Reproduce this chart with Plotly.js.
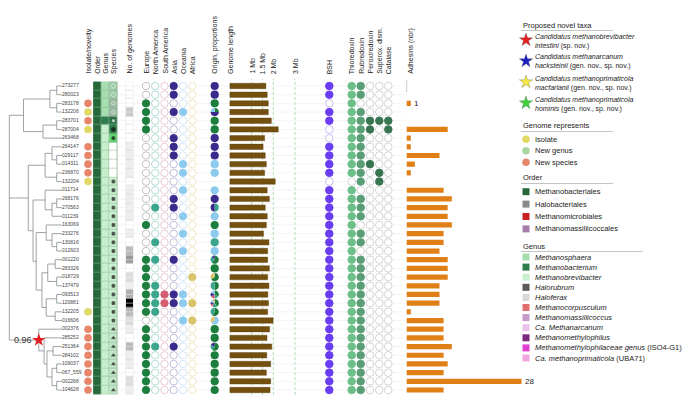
<!DOCTYPE html>
<html><head><meta charset="utf-8">
<script src="https://cdn.plot.ly/plotly-3.0.1.min.js"></script>
<style>body{margin:0;padding:0;background:#fff}#chart{width:699px;height:395px}</style>
</head><body><div id="chart"></div>
<script>
// ---------------- DATA ----------------
const genomes = ['273277','280023','283178','132206','283701','287004','263468','264147','029117','014311','236870','132204','011714','268176','270563','011239','163069','233276','130816','012603','001220','283326','018729','137479','093513','120881','132205','016606','002376','285252','251364','284102','109037','067_559','002268','104628'];
// I = isolate, G = new genus, S = new species, '' = none
const novelty = ['','','S','I','S','I','','S','S','S','S','I','','','','','','','','','','','','','','','I','','S','S','S','S','S','S','S','S'];
const orderCat = Array(36).fill('Methanobacteriales');
const genusCat = ['Methanosphaera','Methanosphaera','Methanosphaera','Methanosphaera','Methanobacterium'].concat(Array(31).fill('Methanobrevibacter'));
const speciesCat = ['A','A','B','B','C','D','E','','','','','F','F','F','F','F','F','F','F','F','F','F','F','F','F','F','F','F','G','G','G','G','G','G','G','G'];
const nGenomes = [1,1,1,4,1,1,1,2,2,2,2,1,2,2,2,2,1,2,1,5,8,1,3,2,6,20,5,3,2,1,5,2,2,1,3,2];
// genomes per region of origin
const europe  = [0,0,1,1,1,1,0,0,0,0,0,0,0,0,0,0,1,0,0,0,5,1,2,1,2,8,3,0,2,1,3,2,2,1,3,2];
const northAm = [0,0,0,0,0,0,0,0,0,0,0,0,0,0,1,0,0,0,1,0,2,0,0,1,1,4,2,0,0,0,1,0,0,0,0,0];
const southAm = [0,0,0,0,0,0,0,0,0,0,0,0,0,0,0,0,0,0,0,0,0,0,0,0,1,2,0,0,0,0,0,0,0,0,0,0];
const asia    = [1,1,0,2,0,0,1,2,2,0,0,0,0,2,1,0,0,0,0,0,1,0,0,0,1,2,0,0,0,0,1,0,0,0,0,0];
const oceania = [0,0,0,1,0,0,0,0,0,2,2,0,2,0,0,2,0,1,0,5,0,0,0,0,1,2,0,2,0,0,0,0,0,0,0,0];
const africa  = [0,0,0,0,0,0,0,0,0,0,0,0,0,0,0,0,0,0,0,0,0,0,1,0,0,2,0,1,0,0,0,0,0,0,0,0];
const genomeMb = [1.66,1.72,1.77,1.77,1.91,2.23,1.60,1.53,1.63,1.68,1.60,2.09,1.72,1.82,1.63,1.72,1.68,1.55,1.80,1.74,1.74,1.82,1.74,1.80,1.75,1.78,1.74,1.99,1.83,1.71,1.93,1.70,1.88,1.68,1.88,1.85];
const bsh   = [1,1,0,1,1,0,0,1,1,1,1,0,1,1,1,1,1,1,1,1,1,1,1,1,1,1,1,1,1,1,1,1,1,1,1,1];
const thio  = [1,1,1,1,1,1,1,1,1,1,1,0,1,1,1,1,1,1,1,1,1,1,1,1,1,1,1,1,1,1,1,1,1,1,1,1];
const rub   = [1,1,0,1,1,1,1,1,1,1,1,1,0,1,1,1,0,1,1,0,1,1,1,1,1,1,1,1,1,1,1,1,1,1,1,1];
const perox = [0,0,0,0,1,1,0,0,0,1,0,0,0,0,0,0,0,0,0,0,0,0,0,0,0,0,0,0,0,0,0,0,0,0,0,0];
const sod   = [0,0,0,0,1,0,0,0,0,0,1,1,0,0,0,0,0,0,0,0,0,0,0,0,0,0,0,0,0,0,0,0,0,0,0,0];
const catal = [0,0,0,0,1,1,0,0,0,0,0,0,0,0,0,0,0,0,0,0,0,0,0,0,0,0,0,0,0,0,0,0,0,0,0,0];
const adhesins = [0,0,1,0,0,10,1,1,8,2,1,0,9,11,10,10,11,9,9,8,10,10,10,8,8,8,1,9,9,9,11,9,10,9,28,9];
const mbTicks = [1,1.5,2,3];
const mbTickText = ['1 Mb','1.5 Mb','2 Mb','3 Mb'];
// tree: [depth, child, child, ...] ; leaves are row indices (depth 1)
const tree = [0,
  [0.27, [0.77,[0.9,0,1],[0.9,2,3]], [0.64,[0.9,4,5],6]],
  [0.36,
    [0.68,[0.81,7,[0.9,8,9]],[0.9,10,11]],
    [0.45,
      [0.68,12,[0.81,[0.9,13,14],15]],
      [0.51,
        [0.70,16,[0.81,17,[0.9,18,19]]],
        [0.62,
          [0.73,[0.87,20,21],[0.9,22,23]],
          [0.70,[0.9,24,25],[0.87,26,27]]]]]],
  [0.56,28,[0.66,29,[0.715,[0.83,30,31],[0.81,[0.9,32,33],[0.9,34,35]]]]]];
const nodeSupport = '0.96';
// legend
const novelLine1 = ['<i>Candidatus methanobrevibacter</i>','<i>Candidatus methanarcanum</i>','<i>Candidatus methanoprimaticola</i>','<i>Candidatus methanoprimaticola</i>'];
const novelLine2 = ['<i>intestini</i> (sp. nov.)','<i>hacksteinii</i> (gen. nov., sp. nov.)','<i>macfarlanii</i> (gen. nov., sp. nov.)','<i>hominis</i> (gen. nov., sp. nov.)'];
const novelColors = ['#e41e1e','#1f1fc4','#f3e748','#3fd23f'];
const reprNames = ['Isolate','New genus','New species'];
const reprColors = ['#e2d866','#a9d6a0','#e8866c'];
const orderNames = ['Methanobacteriales','Halobacteriales','Methanomicrobiales','Methanomassiliicoccales'];
const orderColors = ['#27683b','#8a8a8a','#c92222','#a77ba7'];
const genusNames = ['<i>Methanosphaera</i>','<i>Methanobacterium</i>','<i>Methanobrevibacter</i>','<i>Halorubrum</i>','<i>Haloferax</i>','<i>Methanocorpusculum</i>','<i>Methanomassiliicoccus</i>','<i>Ca. Methanarcanum</i>','<i>Methanomethylophilus</i>','<i>Methanomethylophilaceae genus</i> (ISO4-G1)','<i>Ca. methanoprimaticola</i> (UBA71)'];
const genusColors = ['#a6deb0','#2f7d4f','#c8efcd','#5a5a5a','#d9d9d9','#e07070','#c59ac5','#e9c3e9','#7d2a7d','#e23fd2','#f1a6dc'];

// ---------------- STYLE / LAYOUT HELPERS ----------------
const W=699,H=395, ROW0=86, PITCH=8.686;
const rowAt = py => (py-ROW0)/PITCH;
const pY = py => 1-py/H;
const N = genomes.length, rows=[...Array(N).keys()];
const C = {nov:88, order:97.2, genus:105.2, species:113.4, ngen:129.5, eu:146, na:155.2, sa:164.5, as:173.7, oc:183, af:192.3,
  origin:214.7, bsh:329.3, thio:351.7, rub:360.7, perox:370, sod:379.3, cat:388.3, adh:406.7, mb0:229.9};
const MBPX=21.7, ADPX=4.1, TREE0=9.3, TREE1=62;
const FONT='Liberation Sans, Arial, sans-serif';
const traces=[], ann=[], shapes=[];

// row grid lines
{const xs=[],ys=[];rows.forEach(i=>{xs.push(118,404,null);ys.push(i,i,null);});
 traces.push({type:'scatter',mode:'lines',x:xs,y:ys,line:{color:'#ececec',width:0.6},hoverinfo:'skip',showlegend:false});}

// taxonomy heatmap
const palette = {};
const colList=[]; function cidx(c){if(!(c in palette)){palette[c]=colList.length;colList.push(c);}return palette[c];}
const orderCol={'Methanobacteriales':'#27683b'};
const genusCol={}; genusNames.forEach((g,k)=>genusCol[g.replace(/<[^>]+>/g,'').replace(/ \(.*\)/,'')]=genusColors[k]);
const spCol={A:'#9ecba7',B:'#98b8a0',C:'#2c7045',D:'#2f7e4a',E:'#5fd36f',F:'#c8f0ce',G:'#c2e4c8','':'#ffffff'};
const spSym={A:['diamond-open','#ffffff',4],B:['circle-open','#ffffff',3.6],C:['circle','#ffffff',2.4],D:['circle','#111',4],E:['circle','#111',3.2],F:['square','#111',2.8],G:['triangle-up','#111',3.2]};
const zTax = rows.map(i=>[cidx(orderCol[orderCat[i]]), cidx(genusCol[genusCat[i]]), cidx(spCol[speciesCat[i]])]);
const nc=colList.length, cs=[];
colList.forEach((c,k)=>{cs.push([k/nc,c]);cs.push([(k+1)/nc,c]);});
shapes.push({type:'rect',xref:'x',yref:'y',x0:93.2,x1:117.5,y0:-0.5,y1:N-0.5,fillcolor:'#8fb597',line:{width:0},layer:'below'});
traces.push({type:'heatmap',x:[C.order,C.genus,C.species],y:rows,z:zTax,zmin:-0.5,zmax:nc-0.5,colorscale:cs,showscale:false,xgap:0.5,ygap:0.5,hoverinfo:'skip'});
// species symbols
{const sx=[],sy=[],ss=[],sc=[],sz=[];rows.forEach(i=>{const s=spSym[speciesCat[i]];if(s){sx.push(C.species);sy.push(i);ss.push(s[0]);sc.push(s[1]);sz.push(s[2]);}});
 traces.push({type:'scatter',mode:'markers',x:sx,y:sy,marker:{symbol:ss,color:sc,size:sz,line:{color:sc,width:0.8}},hoverinfo:'skip',showlegend:false});}
// number of genomes heatmap
shapes.push({type:'rect',xref:'x',yref:'y',x0:125.7,x1:133.3,y0:-0.5,y1:N-0.5,fillcolor:'#cfcfcf',line:{width:0},layer:'below'});
traces.push({type:'heatmap',x0:C.ngen,dx:7.0,y0:0,dy:1,z:nGenomes.map(v=>[v]),zmin:1,zmax:20,
  colorscale:[[0,'#ffffff'],[0.053,'#eeeeee'],[0.105,'#dddddd'],[0.2,'#bbbbbb'],[0.37,'#999999'],[1,'#000000']],showscale:false,ygap:0.6,hoverinfo:'skip'});

// novelty circles
{const m={I:reprColors[0],G:reprColors[1],S:reprColors[2]};const xs=[],ys=[],cc=[];
 rows.forEach(i=>{if(novelty[i]){xs.push(C.nov);ys.push(i);cc.push(m[novelty[i]]);}});
 traces.push({type:'scatter',mode:'markers',x:xs,y:ys,marker:{size:7.6,color:cc},hoverinfo:'skip',showlegend:false});}

function presence(vals,x,fill,outline,size){
  traces.push({type:'scatter',mode:'markers',x:rows.map(()=>x),y:rows,
    marker:{size:size||7.4,color:vals.map(v=>v>0?fill:'#ffffff'),line:{width:0.9,color:vals.map(v=>v>0?fill:outline)}},hoverinfo:'skip',showlegend:false});
}
const regions=[[europe,C.eu,'#1b7e3d','#bcbcbc'],[northAm,C.na,'#3ba58e','#acd8d0'],[southAm,C.sa,'#d45f72','#e6c4cc'],
  [asia,C.as,'#3a2a8c','#bab4d4'],[oceania,C.oc,'#8dcbee','#cbe4f4'],[africa,C.af,'#d9c46b','#eee3bf']];
regions.forEach(r=>presence(r[0],r[1],r[2],r[3]));
presence(bsh,C.bsh,'#6a3cf2','#c5b6f5',7.6);
presence(thio,C.thio,'#6cbf88','#cfcfcf',7.6);
presence(rub,C.rub,'#5a9e78','#cfcfcf',7.6);
presence(perox,C.perox,'#3a7552','#cfcfcf',7.6);
presence(sod,C.sod,'#3a7552','#cfcfcf',7.6);
presence(catal,C.cat,'#3a7552','#cfcfcf',7.6);

// origin pies
rows.forEach(i=>{
  const vals=regions.map(r=>r[0][i]); if(vals.reduce((a,b)=>a+b,0)===0) return;
  const cy=ROW0+i*PITCH, r=4.1;
  traces.push({type:'pie',values:vals,marker:{colors:regions.map(r=>r[2]),line:{width:0}},sort:false,direction:'clockwise',
    textinfo:'none',hoverinfo:'skip',showlegend:false,domain:{x:[(C.origin-r)/W,(C.origin+r)/W],y:[pY(cy+r),pY(cy-r)]}});
});

// genome length bars
traces.push({type:'bar',orientation:'h',x:genomeMb,y:rows,base:0,width:0.62,xaxis:'x2',yaxis:'y',
  marker:{color:'#73500f',line:{color:'#5a3d08',width:0.4}},hoverinfo:'skip',showlegend:false});
mbTicks.forEach((t,k)=>{
  shapes.push({type:'line',xref:'x2',yref:'paper',x0:t,x1:t,y0:0,y1:pY(79),line:{color:'#9fd49f',width:0.8,dash:'3px,2px'},layer:'below'});
  ann.push({xref:'x2',yref:'paper',x:t,y:pY(76),text:mbTickText[k],textangle:-90,xanchor:'center',yanchor:'bottom',showarrow:false,font:{size:7,color:'#222',family:FONT}});
});
// adhesin bars
traces.push({type:'bar',orientation:'h',x:adhesins,y:rows,base:0,width:0.6,xaxis:'x3',yaxis:'y',
  marker:{color:'#e07f16',line:{width:0}},hoverinfo:'skip',showlegend:false});
rows.forEach(i=>{ if(adhesins[i]===1 && i===2 || adhesins[i]===Math.max(...adhesins))
  ann.push({xref:'x3',yref:'y',x:adhesins[i],y:i,text:String(adhesins[i]),xanchor:'left',xshift:1.5,showarrow:false,font:{size:8,color:'#222',family:FONT}});});
traces.push({type:'scatter',mode:'lines',x:[0,0],y:[rowAt(80),rowAt(92)],xaxis:'x3',yaxis:'y',line:{color:'#aaa',width:0.6},hoverinfo:'skip',showlegend:false});

// tree
{const xs=[],ys=[];
 function lay(n){ if(typeof n==='number') return {d:1,y:n};
   const kids=n.slice(1).map(lay); const y=kids.reduce((a,k)=>a+k.y,0)/kids.length;
   xs.push(n[0],n[0],null);ys.push(kids[0].y,kids[kids.length-1].y,null);
   kids.forEach(k=>{xs.push(n[0],k.d,null);ys.push(k.y,k.y,null);});
   const res={d:n[0],y:y}; n._pos=res; return res;}
 lay(tree);
 const star=tree[tree.length-1]._pos;
 traces.push({type:'scatter',mode:'lines',x:xs,y:ys,xaxis:'x4',yaxis:'y',line:{color:'#8a8a8a',width:0.8},hoverinfo:'skip',showlegend:false});
 traces.push({type:'scatter',mode:'text',x:rows.map(()=>1),y:rows,text:genomes,textposition:'middle right',xaxis:'x4',yaxis:'y',textfont:{size:5,color:'#444',family:FONT},hoverinfo:'skip',showlegend:false});
 traces.push({type:'scatter',mode:'markers',x:[star.d],y:[star.y],xaxis:'x4',yaxis:'y',marker:{symbol:'star',size:10,color:'#e41e1e',line:{width:0}},hoverinfo:'skip',showlegend:false});
 ann.push({xref:'x4',yref:'y',x:star.d,y:star.y,text:nodeSupport,xanchor:'right',xshift:-5,showarrow:false,font:{size:9,color:'#333',family:FONT}});
}

// column headers
const headers=[['Isolate/novelty',C.nov],['Order',C.order],['Genus',C.genus],['Species',C.species],['No. of genomes',C.ngen],
 ['Europe',C.eu],['North America',C.na],['South America',C.sa],['Asia',C.as],['Oceania',C.oc],['Africa',C.af],
 ['Origin, proportions',C.origin],['Genome length',C.mb0+1],['BSH',C.bsh],['Thioredoxin',C.thio],['Rubredoxin',C.rub],
 ['Peroxiredoxin',C.perox],['Superox. dism.',C.sod],['Catalase',C.cat],['Adhesins (nbr)',C.adh+4]];
headers.forEach(h=>ann.push({xref:'x',yref:'paper',x:h[1],y:pY(76),text:h[0],textangle:-90,xanchor:'center',yanchor:'bottom',showarrow:false,font:{size:7,color:'#222',family:FONT}}));

// legend
const LX=526, TX=534;
function header(t,py,lineEnd){ann.push({xref:'x',yref:'paper',x:521,y:pY(py),text:t,xanchor:'left',yanchor:'middle',showarrow:false,font:{size:7.5,color:'#222',family:FONT}});
  shapes.push({type:'line',xref:'x',yref:'paper',x0:521,x1:lineEnd,y0:pY(py+5.5),y1:pY(py+5.5),line:{color:'#b5b5b5',width:0.8}});}
function ltext(t,py,sz){ann.push({xref:'x',yref:'paper',x:TX,y:pY(py),text:t,xanchor:'left',yanchor:'middle',align:'left',showarrow:false,borderpad:0,font:{size:sz||7.5,color:'#222',family:FONT}});}
header('Proposed novel taxa',25,613);
{const ys=novelColors.map((c,k)=>rowAt(40+k*21));
 traces.push({type:'scatter',mode:'markers',x:novelColors.map(()=>LX),y:ys,marker:{symbol:'star',size:10,color:novelColors,line:{color:'#555',width:0.3}},hoverinfo:'skip',showlegend:false});
 novelColors.forEach((c,k)=>ltext(novelLine1[k]+'<br>'+novelLine2[k],41+k*21,7));}
header('Genome represents',126,613);
traces.push({type:'scatter',mode:'markers',x:reprColors.map(()=>LX),y:reprColors.map((c,k)=>rowAt(139.3+k*11.5)),marker:{size:7.5,color:reprColors},hoverinfo:'skip',showlegend:false});
reprNames.forEach((t,k)=>ltext(t,139.3+k*11.5));
header('Order',178,613);
traces.push({type:'scatter',mode:'markers',x:orderColors.map(()=>LX),y:orderColors.map((c,k)=>rowAt(191.7+k*12.4)),marker:{symbol:'square',size:7,color:orderColors},hoverinfo:'skip',showlegend:false});
orderNames.forEach((t,k)=>ltext(t,191.7+k*12.4));
header('Genus',246,643);
traces.push({type:'scatter',mode:'markers',x:genusColors.map(()=>LX),y:genusColors.map((c,k)=>rowAt(257+k*10.1)),marker:{symbol:'square',size:7,color:genusColors},hoverinfo:'skip',showlegend:false});
genusNames.forEach((t,k)=>ltext(t,257+k*10.1));

const hid={visible:false,fixedrange:true,showgrid:false,zeroline:false};
const layout={width:W,height:H,margin:{l:0,r:0,t:0,b:0},paper_bgcolor:'#fff',plot_bgcolor:'rgba(0,0,0,0)',barmode:'overlay',showlegend:false,
  font:{family:FONT},
  xaxis:Object.assign({range:[0,W]},hid),
  yaxis:Object.assign({range:[rowAt(H),rowAt(0)]},hid),
  xaxis2:Object.assign({overlaying:'x',range:[-C.mb0/MBPX,(W-C.mb0)/MBPX]},hid),
  xaxis3:Object.assign({overlaying:'x',range:[-C.adh/ADPX,(W-C.adh)/ADPX]},hid),
  xaxis4:Object.assign({overlaying:'x',range:[-TREE0/(TREE1-TREE0),(W-TREE0)/(TREE1-TREE0)]},hid),
  annotations:ann,shapes:shapes};
Plotly.newPlot('chart',traces,layout,{staticPlot:true,displayModeBar:false});
</script></body></html>
